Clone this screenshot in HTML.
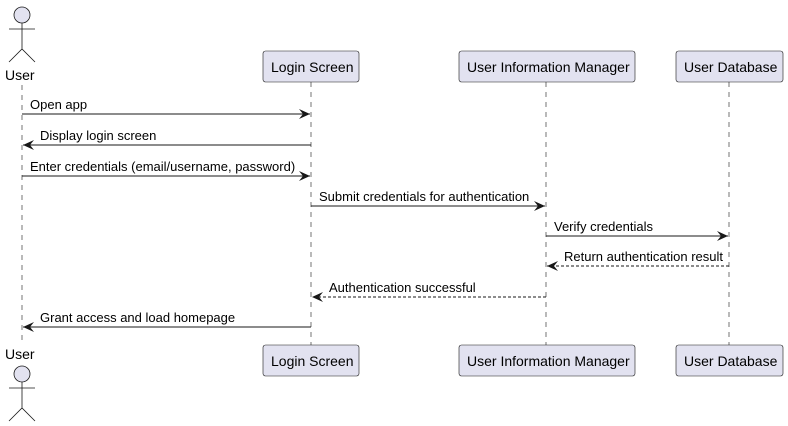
<!DOCTYPE html>
<html><head><meta charset="utf-8"><style>body{margin:0;background:#fff}svg{display:block}</style></head><body>
<svg width="788" height="426" xmlns="http://www.w3.org/2000/svg" font-family="Liberation Sans, sans-serif" font-size="13">
<defs>
<marker id="a" markerWidth="12" markerHeight="10" refX="11" refY="5" orient="auto" markerUnits="userSpaceOnUse"><path d="M0,0 L11,5 L0,10 L4,5 Z" fill="#181818"/></marker>
</defs>
<g stroke="#181818" stroke-width="0.6" stroke-dasharray="5,5">
<line x1="22" y1="85" x2="22" y2="345"/>
<line x1="311" y1="82" x2="311" y2="345"/>
<line x1="546" y1="82" x2="546" y2="345"/>
<line x1="729" y1="82" x2="729" y2="345"/>
</g>
<g fill="#E2E2F0" stroke="#181818" stroke-width="0.6">
<rect x="263" y="51" width="96" height="31" rx="2.5"/>
<rect x="459" y="51" width="176" height="31" rx="2.5"/>
<rect x="676" y="51" width="107" height="31" rx="2.5"/>
<rect x="263" y="345" width="96" height="31" rx="2.5"/>
<rect x="459" y="345" width="176" height="31" rx="2.5"/>
<rect x="676" y="345" width="107" height="31" rx="2.5"/>
<g stroke-width="0.8">
<circle cx="22" cy="15" r="8"/>
<path d="M22,23 V49 M9,29 H35 M9,62 L22,49 L35,62" fill="none"/>
<circle cx="22" cy="374" r="8"/>
<path d="M22,382 V408 M9,388 H35 M9,421 L22,408 L35,421" fill="none"/>
</g>
</g>
<g fill="#000" font-size="14">
<text x="271" y="72">Login Screen</text>
<text x="467" y="72">User Information Manager</text>
<text x="684" y="72">User Database</text>
<text x="271" y="366">Login Screen</text>
<text x="467" y="366">User Information Manager</text>
<text x="684" y="366">User Database</text>
<text x="5" y="80">User</text>
<text x="5" y="359">User</text>
</g>
<g stroke="#181818" stroke-width="1" marker-end="url(#a)" fill="none">
<line x1="22" y1="114" x2="310" y2="114"/>
<line x1="311" y1="145" x2="23" y2="145"/>
<line x1="22" y1="176" x2="310" y2="176"/>
<line x1="311" y1="206" x2="545" y2="206"/>
<line x1="546" y1="236" x2="728" y2="236"/>
<line x1="729" y1="266" x2="547" y2="266" stroke-dasharray="3,2"/>
<line x1="546" y1="297" x2="312" y2="297" stroke-dasharray="3,2"/>
<line x1="311" y1="327" x2="23" y2="327"/>
</g>
<g fill="#000">
<text x="30" y="109">Open app</text>
<text x="40" y="140">Display login screen</text>
<text x="30" y="171">Enter credentials (email/username, password)</text>
<text x="319" y="201">Submit credentials for authentication</text>
<text x="554" y="231">Verify credentials</text>
<text x="564" y="261">Return authentication result</text>
<text x="329" y="292">Authentication successful</text>
<text x="40" y="322">Grant access and load homepage</text>
</g>
</svg>
</body></html>
